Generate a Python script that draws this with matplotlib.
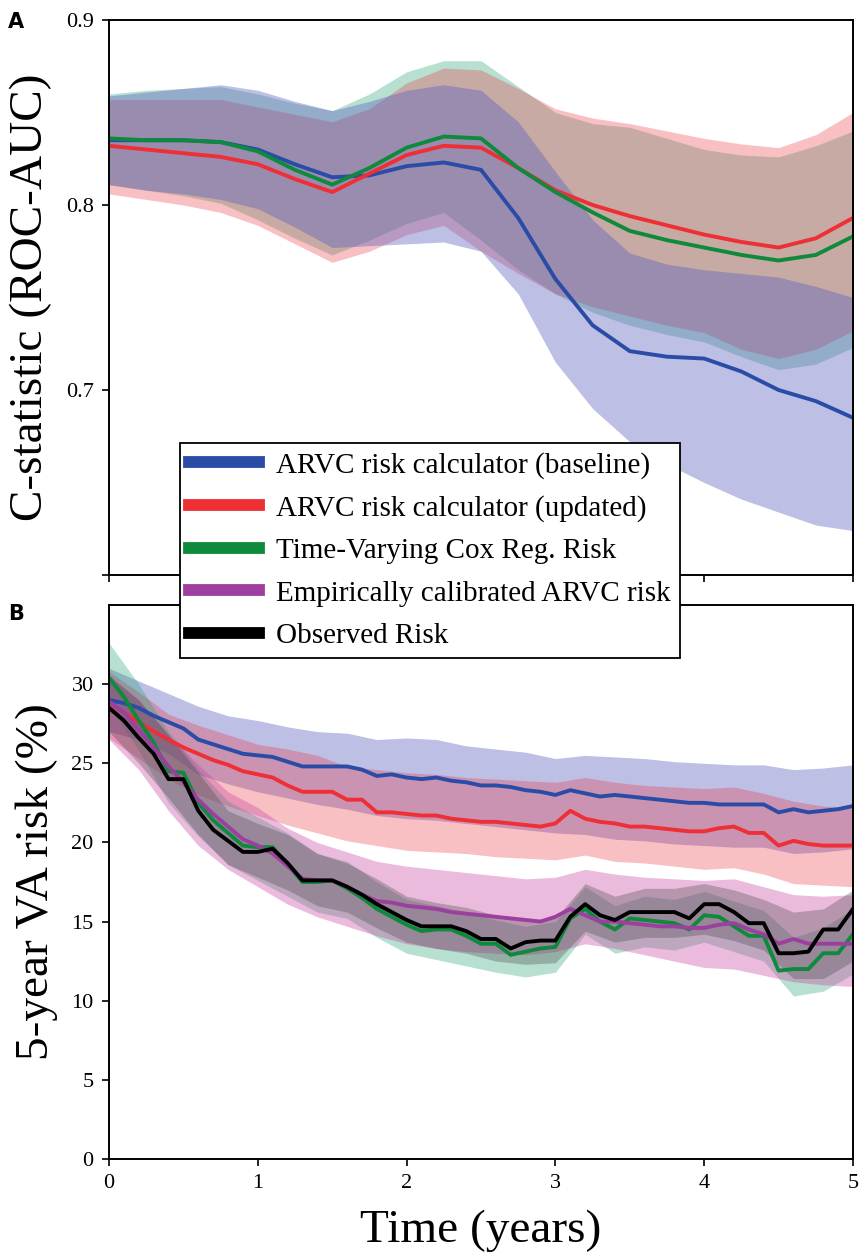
import numpy as np
import matplotlib
matplotlib.use("Agg")
import matplotlib.pyplot as plt

plt.rcParams["font.family"] = ["Liberation Serif", "DejaVu Serif"]

# ---------------- Panel A: C-statistic over time ----------------
t_auc = [0.0, 0.25, 0.5, 0.75, 1.0, 1.25, 1.5, 1.75, 2.0, 2.25, 2.5,
         2.75, 3.0, 3.25, 3.5, 3.75, 4.0, 4.25, 4.5, 4.75, 5.0]

auc_base = [0.835, 0.835, 0.835, 0.834, 0.830, 0.822, 0.815, 0.816, 0.821, 0.823, 0.819,
            0.793, 0.760, 0.735, 0.721, 0.718, 0.717, 0.710, 0.700, 0.694, 0.685]
auc_base_lo = [0.811, 0.808, 0.806, 0.803, 0.798, 0.788, 0.777, 0.778, 0.779, 0.780, 0.775,
               0.752, 0.715, 0.690, 0.672, 0.660, 0.650, 0.641, 0.634, 0.627, 0.624]
auc_base_hi = [0.859, 0.861, 0.863, 0.865, 0.862, 0.856, 0.851, 0.856, 0.862, 0.865, 0.862,
               0.845, 0.818, 0.792, 0.774, 0.768, 0.765, 0.763, 0.761, 0.756, 0.750]

auc_upd = [0.832, 0.830, 0.828, 0.826, 0.822, 0.814, 0.807, 0.817, 0.827, 0.832, 0.831,
           0.820, 0.808, 0.800, 0.794, 0.789, 0.784, 0.780, 0.777, 0.782, 0.793]
auc_upd_lo = [0.806, 0.803, 0.800, 0.796, 0.789, 0.779, 0.769, 0.775, 0.784, 0.789, 0.775,
              0.763, 0.752, 0.745, 0.740, 0.735, 0.731, 0.722, 0.717, 0.722, 0.732]
auc_upd_hi = [0.857, 0.857, 0.857, 0.857, 0.853, 0.849, 0.845, 0.852, 0.866, 0.874, 0.873,
              0.863, 0.852, 0.847, 0.844, 0.840, 0.836, 0.833, 0.831, 0.838, 0.850]

auc_cox = [0.836, 0.835, 0.835, 0.834, 0.829, 0.819, 0.811, 0.820, 0.831, 0.837, 0.836,
           0.820, 0.807, 0.796, 0.786, 0.781, 0.777, 0.773, 0.770, 0.773, 0.783]
auc_cox_lo = [0.811, 0.808, 0.805, 0.801, 0.792, 0.782, 0.773, 0.781, 0.790, 0.796, 0.781,
              0.765, 0.752, 0.742, 0.735, 0.730, 0.726, 0.718, 0.711, 0.714, 0.723]
auc_cox_hi = [0.860, 0.862, 0.863, 0.864, 0.860, 0.855, 0.851, 0.860, 0.872, 0.878, 0.878,
              0.864, 0.850, 0.844, 0.842, 0.836, 0.830, 0.827, 0.826, 0.832, 0.840]

# ---------------- Panel B: 5-year VA risk ----------------
t_risk = [round(0.1 * i, 1) for i in range(51)]

risk_base = [29.0, 28.8, 28.5, 28.0, 27.6, 27.2, 26.5, 26.2, 25.9, 25.6,
             25.5, 25.4, 25.1, 24.8, 24.8, 24.8, 24.8, 24.6, 24.2, 24.3,
             24.1, 24.0, 24.1, 23.9, 23.8, 23.6, 23.6, 23.5, 23.3, 23.2,
             23.0, 23.3, 23.1, 22.9, 23.0, 22.9, 22.8, 22.7, 22.6, 22.5,
             22.5, 22.4, 22.4, 22.4, 22.4, 21.9, 22.1, 21.9, 22.0, 22.1, 22.3]
risk_upd = [28.8, 28.2, 27.6, 27.0, 26.5, 26.0, 25.6, 25.2, 24.9, 24.5,
            24.3, 24.1, 23.6, 23.2, 23.2, 23.2, 22.7, 22.7, 21.9, 21.9,
            21.8, 21.7, 21.7, 21.5, 21.4, 21.3, 21.3, 21.2, 21.1, 21.0,
            21.2, 22.0, 21.5, 21.3, 21.2, 21.0, 21.0, 20.9, 20.8, 20.7,
            20.7, 20.9, 21.0, 20.6, 20.6, 19.8, 20.1, 19.9, 19.8, 19.8, 19.8]
risk_cox = [30.4, 29.2, 27.7, 26.3, 24.5, 24.4, 22.5, 21.4, 20.6, 19.8,
            19.7, 19.7, 18.6, 17.5, 17.5, 17.6, 17.1, 16.5, 15.8, 15.3,
            14.8, 14.4, 14.5, 14.5, 14.1, 13.6, 13.6, 12.9, 13.1, 13.3,
            13.4, 15.2, 15.8, 15.0, 14.5, 15.2, 15.1, 15.0, 14.9, 14.5,
            15.4, 15.3, 14.7, 14.1, 14.1, 11.9, 12.0, 12.0, 13.0, 13.0, 14.2]
risk_emp = [28.9, 28.2, 27.1, 26.0, 24.8, 23.8, 22.7, 21.8, 21.0, 20.2,
            19.8, 19.3, 18.5, 17.7, 17.6, 17.6, 17.2, 16.7, 16.3, 16.2,
            16.0, 15.9, 15.8, 15.6, 15.5, 15.4, 15.3, 15.2, 15.1, 15.0,
            15.3, 15.8, 15.4, 15.0, 15.0, 14.9, 14.8, 14.7, 14.7, 14.6,
            14.6, 14.8, 14.9, 14.5, 14.2, 13.6, 13.9, 13.6, 13.6, 13.6, 13.6]
risk_obs = [28.5, 27.7, 26.6, 25.6, 24.0, 24.0, 22.0, 20.8, 20.1, 19.4,
            19.4, 19.6, 18.7, 17.6, 17.6, 17.6, 17.2, 16.7, 16.1, 15.6,
            15.1, 14.7, 14.7, 14.7, 14.4, 13.9, 13.9, 13.3, 13.7, 13.8,
            13.8, 15.3, 16.1, 15.4, 15.1, 15.6, 15.6, 15.6, 15.6, 15.2,
            16.1, 16.1, 15.6, 14.9, 14.9, 13.0, 13.0, 13.1, 14.5, 14.5, 15.8]

# confidence bands, sampled every 0.2 years
t_band = [round(0.2 * i, 1) for i in range(26)]

base_lo = [27.0, 26.5, 25.6, 24.3, 23.7, 23.2, 22.8, 22.4, 22.1, 21.7, 21.5, 21.4, 21.2,
           21.0, 20.8, 20.6, 20.5, 20.2, 20.1, 19.9, 19.8, 19.7, 19.7, 19.3, 19.4, 19.6]
base_hi = [31.0, 30.2, 29.4, 28.6, 28.0, 27.7, 27.3, 27.0, 26.9, 26.5, 26.6, 26.5, 26.1,
           25.9, 25.7, 25.3, 25.5, 25.4, 25.3, 25.1, 25.0, 24.9, 24.9, 24.6, 24.7, 24.9]
upd_lo = [26.6, 25.3, 24.0, 23.0, 22.3, 21.7, 21.1, 20.6, 20.1, 19.8, 19.5, 19.4, 19.3,
          19.1, 19.0, 18.9, 19.2, 18.8, 18.7, 18.5, 18.3, 18.4, 18.0, 17.4, 17.3, 17.2]
upd_hi = [30.8, 29.5, 28.1, 27.4, 26.8, 26.2, 25.9, 25.5, 24.8, 24.6, 24.4, 24.3, 24.1,
          24.0, 23.9, 23.8, 24.1, 23.8, 23.6, 23.5, 23.4, 23.5, 23.1, 22.6, 22.3, 22.2]
cox_lo = [28.6, 25.8, 22.5, 20.4, 18.6, 17.6, 16.6, 15.6, 15.2, 14.0, 13.0, 12.6, 12.2,
          11.8, 11.5, 11.8, 14.2, 13.0, 13.4, 13.2, 13.7, 13.1, 12.5, 10.3, 10.6, 11.7]
cox_hi = [32.6, 30.0, 27.0, 24.6, 22.6, 21.6, 20.6, 19.3, 18.8, 17.5, 16.4, 16.0, 15.6,
          15.1, 14.7, 15.0, 17.2, 16.0, 16.6, 16.4, 16.9, 16.3, 15.7, 14.0, 14.6, 15.8]
emp_lo = [26.5, 24.6, 22.0, 19.8, 18.3, 17.2, 16.1, 15.3, 14.7, 14.1, 13.6, 13.3, 13.1,
          13.0, 12.9, 13.1, 13.6, 13.3, 12.9, 12.5, 12.1, 12.0, 11.6, 11.2, 11.0, 10.9]
emp_hi = [30.6, 29.0, 26.8, 24.9, 23.2, 22.2, 20.9, 20.0, 19.4, 18.8, 18.5, 18.3, 18.1,
          17.9, 17.7, 17.8, 18.3, 18.0, 17.8, 17.7, 17.6, 17.7, 17.2, 16.7, 16.6, 16.7]
obs_lo = [27.0, 25.0, 22.8, 20.5, 18.6, 17.8, 17.0, 16.0, 15.6, 14.6, 13.7, 13.3, 13.0,
          12.5, 12.3, 12.4, 14.4, 13.7, 14.0, 14.0, 14.2, 13.8, 13.2, 11.4, 11.4, 12.5]
obs_hi = [30.5, 29.0, 26.8, 24.4, 22.0, 21.2, 20.5, 19.3, 18.7, 17.7, 16.6, 16.2, 15.9,
          15.4, 15.1, 15.2, 17.4, 16.6, 17.1, 17.1, 17.4, 17.0, 16.4, 15.6, 15.8, 17.0]

labels = ["ARVC risk calculator (baseline)", "ARVC risk calculator (updated)",
          "Time-Varying Cox Reg. Risk", "Empirically calibrated ARVC risk", "Observed Risk"]
line_colors = ["#2a4ca6", "#ee2f36", "#0f8a3c", "#9c3f9f", "#000000"]
fill_colors = ["#5a5fc0", "#e8303a", "#22a070", "#c83ea0", "#404040"]
fill_alpha = [0.40, 0.30, 0.32, 0.35, 0.30]

W, H = 860, 1253
fig = plt.figure(figsize=(W / 100, H / 100), dpi=100)
ax_a = fig.add_axes([109 / W, 1 - 575 / H, 744 / W, 555 / H])
ax_b = fig.add_axes([109 / W, 1 - 1159 / H, 744 / W, 554 / H])

# --- panel A --- (green band first, then red, then blue on top)
auc_sets = [(auc_base, auc_base_lo, auc_base_hi),
            (auc_upd, auc_upd_lo, auc_upd_hi),
            (auc_cox, auc_cox_lo, auc_cox_hi)]
for i in (2, 1, 0):
    m, lo, hi = auc_sets[i]
    ax_a.fill_between(t_auc, lo, hi, color=fill_colors[i], alpha=fill_alpha[i], lw=0)
for i, (m, lo, hi) in enumerate(auc_sets):
    ax_a.plot(t_auc, m, color=line_colors[i], lw=2.8)

ax_a.set_xlim(0, 5)
ax_a.set_ylim(0.6, 0.9)
ax_a.set_yticks([0.6, 0.7, 0.8, 0.9])
ax_a.set_yticklabels(["", "0.7", "0.8", "0.9"])
ax_a.set_xticks(range(6))
ax_a.set_xticklabels([])
ax_a.set_ylabel("C-statistic (ROC-AUC)", fontsize=34, labelpad=10)

# --- panel B ---
risk_sets = [(risk_base, base_lo, base_hi), (risk_upd, upd_lo, upd_hi),
             (risk_cox, cox_lo, cox_hi), (risk_emp, emp_lo, emp_hi),
             (risk_obs, obs_lo, obs_hi)]
for i, (m, lo, hi) in enumerate(risk_sets):
    ax_b.fill_between(t_band, lo, hi, color=fill_colors[i], alpha=fill_alpha[i], lw=0)
handles = []
for i, (m, lo, hi) in enumerate(risk_sets):
    ln, = ax_b.plot(t_risk, m, color=line_colors[i], lw=2.8, label=labels[i])
    handles.append(ln)

ax_b.set_xlim(0, 5)
ax_b.set_ylim(0, 35)
ax_b.set_yticks(range(0, 31, 5))
ax_b.set_xticks(range(6))
ax_b.set_xlabel("Time (years)", fontsize=34, labelpad=12)
ax_b.set_ylabel("5-year VA risk (%)", fontsize=34, labelpad=10)

for ax in (ax_a, ax_b):
    for s in ax.spines.values():
        s.set_linewidth(1.4)
    ax.tick_params(direction="out", length=5, width=1.2, labelsize=16, pad=6)

fig.text(8 / W, 1 - 28 / H, "A", fontsize=15, fontweight="bold", family="DejaVu Sans")
fig.text(8 / W, 1 - 620 / H, "B", fontsize=15, fontweight="bold", family="DejaVu Sans")

leg = fig.legend(handles, labels, loc="upper left", bbox_to_anchor=(180 / W, 1 - 443 / H),
                 fontsize=21, frameon=True, fancybox=False, framealpha=1, edgecolor="black",
                 handlelength=2.4, handletextpad=0.6, labelspacing=0.55, borderpad=0.3,
                 borderaxespad=0)
leg.get_frame().set_linewidth(1.3)
for lh in leg.get_lines():
    lh.set_linewidth(8.5)

fig.savefig("out.png", dpi=100)
